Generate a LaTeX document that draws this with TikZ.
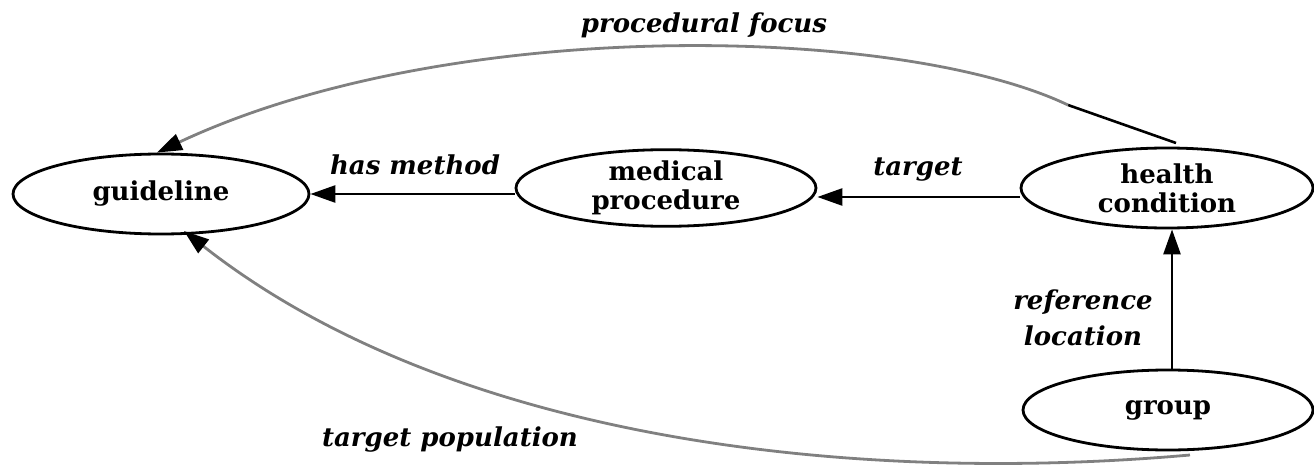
\documentclass[tikz,border=0pt]{standalone}
\usepackage{fontspec}
\setmainfont{DejaVu Serif}
\usetikzlibrary{shapes.geometric,arrows.meta}
\begin{document}
\begin{tikzpicture}[x=1pt,y=-1pt,
  concept/.style={ellipse,draw,line width=2.8pt,inner sep=0pt,
    minimum width=296pt,minimum height=80pt,align=center,
    font=\fontsize{26}{29}\selectfont\bfseries},
  lbl/.style={font=\fontsize{26}{36}\selectfont\bfseries\itshape,align=center,inner sep=0pt},
  arr/.style={line width=2.6pt,-{Triangle[length=25pt,width=17pt]}},
  garr/.style={line width=2.8pt,draw=gray,-{Triangle[length=25pt,width=17pt,color=black,fill=black]}}]
\useasboundingbox (0,0) rectangle (1314,465);
\node[concept] (gl) at (161,194) {guideline};
\node[concept,minimum width=300pt,minimum height=76pt] (mp) at (666,188) {medical\\procedure};
\node[concept,minimum width=292pt] (hc) at (1167,188) {health\\condition};
\node[concept,minimum width=290pt] (gr) at (1168,410) {group};
% straight edges
\draw[arr] (mp.west |- 0,194) -- (gl.east |- 0,194);
\draw[arr] (hc.west |- 0,197) -- (mp.east |- 0,197);
\draw[arr] (gr.north -| 1172,0) -- (hc.south -| 1172,0);
% curved edges
\coordinate (pf) at (1068,105);
\coordinate (pfs) at (1176,143);
\coordinate (tps) at (1190,455);
\draw[line width=2.6pt] (pfs) -- (pf);
\draw[garr] (pf) .. controls (900,25) and (450,15) .. (gl.north -| 157,0);
\draw[garr] (tps) .. controls (850,485) and (450,440) .. (184,231);
% labels
\node[lbl] (l1) at (704,25) {procedural focus};
\node[lbl] (l2) at (415,165) {has method};
\node[lbl] (l3) at (918,170) {target};
\node[lbl] (l4) at (1083,318) {reference\\location};
\node[lbl] (l5) at (450,440) {target population};
\end{tikzpicture}
\end{document}
